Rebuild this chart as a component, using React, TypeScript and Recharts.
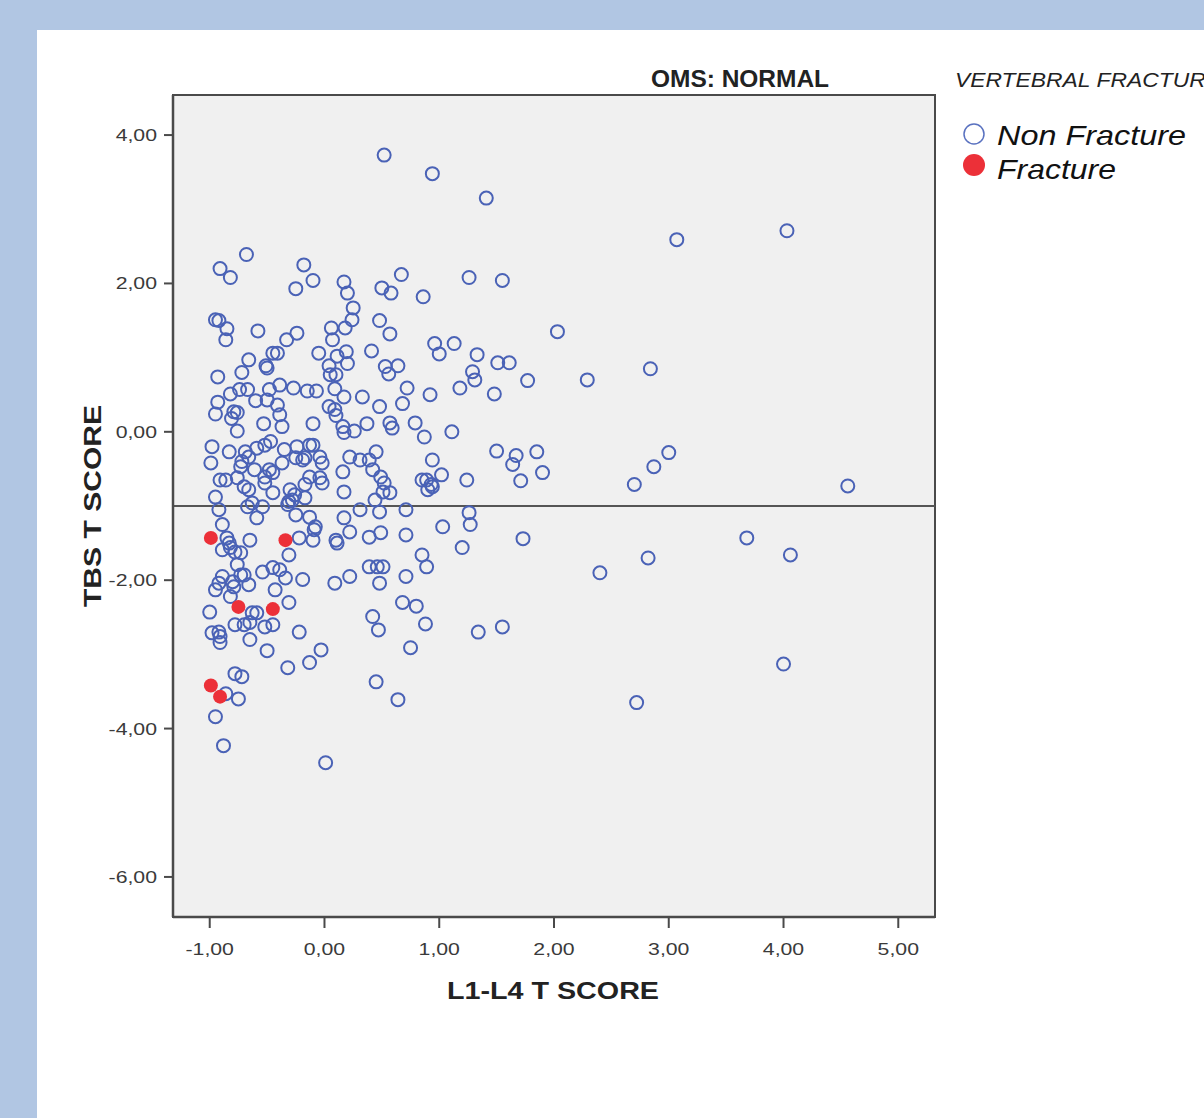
import React from "react";
import {
  ScatterChart,
  Scatter,
  XAxis,
  YAxis,
  CartesianGrid,
  ReferenceLine,
  ReferenceArea,
} from "recharts";

const xTicks = [-1, 0, 1, 2, 3, 4, 5];
const yTicks = [-6, -4, -2, 0, 2, 4];
const xDomain: [number, number] = [-1.32, 5.32];
const yDomain: [number, number] = [-6.54, 4.54];
const referenceY = -1;

const title = "OMS: NORMAL";
const legendTitle = "VERTEBRAL FRACTURE";
const seriesNames = ["Non Fracture", "Fracture"];
const xTitle = "L1-L4 T SCORE";
const yTitle = "TBS T SCORE";

const nonFracturePoints: [number, number][] = [
  [0.52, 3.73], [0.94, 3.48], [1.41, 3.15], [3.07, 2.59], [4.03, 2.71],
  [-0.68, 2.39], [-0.91, 2.2], [-0.82, 2.08], [-0.18, 2.25], [-0.1, 2.04],
  [-0.25, 1.93], [0.17, 2.02], [0.2, 1.87], [0.25, 1.67], [0.24, 1.51],
  [0.18, 1.4], [0.06, 1.4], [0.07, 1.24], [0.5, 1.94], [0.58, 1.87],
  [0.67, 2.12], [0.48, 1.5], [0.57, 1.32], [-0.95, 1.51], [-0.92, 1.5],
  [-0.85, 1.39], [-0.86, 1.24], [-0.58, 1.36], [-0.24, 1.33], [-0.33, 1.24],
  [-0.45, 1.06], [-0.41, 1.06], [-0.66, 0.97], [-0.05, 1.06], [-0.51, 0.89],
  [-0.5, 0.86], [-0.93, 0.74], [-0.72, 0.8], [0.04, 0.89], [0.11, 1.02],
  [0.19, 1.08], [0.2, 0.92], [0.05, 0.77], [0.1, 0.77], [0.41, 1.09],
  [0.53, 0.88], [0.56, 0.78], [0.64, 0.89], [0.72, 0.59], [0.68, 0.38],
  [0.48, 0.34], [0.33, 0.47], [-0.39, 0.63], [-0.27, 0.59], [-0.48, 0.57],
  [-0.74, 0.57], [-0.67, 0.57], [-0.82, 0.51], [-0.93, 0.4], [-0.95, 0.24],
  [-0.79, 0.27], [-0.76, 0.26], [-0.81, 0.18], [-0.6, 0.42], [-0.5, 0.43],
  [-0.41, 0.36], [-0.39, 0.23], [-0.37, 0.07], [-0.53, 0.11], [-0.76, 0.01],
  [-0.15, 0.55], [-0.07, 0.55], [0.09, 0.58], [0.17, 0.47], [0.04, 0.34],
  [0.09, 0.3], [0.1, 0.22], [-0.1, 0.11], [0.16, 0.07], [0.17, -0.01],
  [0.26, 0.01], [0.37, 0.11], [0.57, 0.12], [0.59, 0.05],
  [-0.98, -0.2], [-0.83, -0.27], [-0.99, -0.42], [-0.69, -0.27], [-0.66, -0.34],
  [-0.72, -0.4], [-0.73, -0.47], [-0.59, -0.22], [-0.52, -0.18], [-0.47, -0.13],
  [-0.61, -0.51], [-0.48, -0.51], [-0.45, -0.55], [-0.35, -0.24], [-0.37, -0.42],
  [-0.24, -0.2], [-0.13, -0.18], [-0.1, -0.18], [-0.25, -0.35], [-0.19, -0.38],
  [-0.17, -0.35], [-0.04, -0.34], [-0.02, -0.42], [-0.91, -0.65], [-0.86, -0.65],
  [-0.76, -0.62], [-0.7, -0.74], [-0.66, -0.78], [-0.52, -0.61], [-0.52, -0.69],
  [-0.45, -0.82], [-0.3, -0.78], [-0.26, -0.85], [-0.31, -0.94], [-0.17, -0.71],
  [-0.13, -0.61], [-0.04, -0.62], [-0.02, -0.69], [-0.17, -0.89], [-0.95, -0.88],
  [-0.92, -1.05], [-0.67, -1.01], [-0.63, -0.96], [-0.59, -1.16], [-0.54, -1.01],
  [-0.32, -0.98], [-0.28, -0.92], [-0.25, -1.12], [-0.13, -1.15], [-0.08, -1.28],
  [-0.09, -1.32], [-0.89, -1.25], [-0.22, -1.43], [-0.1, -1.46], [0.1, -1.46],
  [0.11, -1.5], [0.17, -0.81], [0.16, -0.54], [0.22, -0.34], [0.31, -0.38],
  [0.39, -0.38], [0.45, -0.27], [0.42, -0.51], [0.49, -0.61], [0.52, -0.69],
  [0.57, -0.82], [0.51, -0.81], [0.44, -0.92], [0.48, -1.08], [0.31, -1.05],
  [0.17, -1.16], [0.22, -1.35], [0.39, -1.42], [0.49, -1.36], [0.71, -1.05],
  [0.71, -1.39], [-0.85, -1.43], [-0.83, -1.5], [-0.82, -1.56], [-0.89, -1.59],
  [-0.78, -1.62], [-0.73, -1.63], [-0.65, -1.46], [-0.31, -1.66], [-0.76, -1.79],
  [-0.73, -1.93], [-0.7, -1.93], [-0.89, -1.95], [-0.92, -2.04], [-0.95, -2.13],
  [-0.8, -2.02], [-0.79, -2.09], [-0.66, -2.06], [-0.54, -1.89], [-0.45, -1.83],
  [-0.39, -1.86], [-0.34, -1.97], [-0.43, -2.13], [-0.19, -1.99], [-0.82, -2.22],
  [-1.0, -2.43], [-0.63, -2.44], [-0.59, -2.44], [-0.31, -2.3], [0.09, -2.04],
  [0.22, -1.95], [0.39, -1.82], [0.46, -1.82], [0.51, -1.82], [0.48, -2.04],
  [0.42, -2.49], [0.71, -1.95], [0.68, -2.3],
  [-0.98, -2.71], [-0.92, -2.7], [-0.91, -2.76], [-0.91, -2.84], [-0.78, -2.6],
  [-0.7, -2.6], [-0.65, -2.57], [-0.52, -2.63], [-0.45, -2.6], [-0.65, -2.8],
  [-0.5, -2.95], [-0.22, -2.7], [-0.32, -3.18], [-0.13, -3.11], [-0.03, -2.94],
  [0.47, -2.67], [-0.78, -3.26], [-0.72, -3.3], [-0.86, -3.53], [-0.75, -3.6],
  [-0.95, -3.84], [-0.88, -4.23], [0.01, -4.46], [0.45, -3.37], [0.64, -3.61],
  [0.75, -2.91],
  [0.86, 1.82], [1.26, 2.08], [1.55, 2.04], [2.03, 1.35], [0.96, 1.19],
  [1.0, 1.05], [1.13, 1.19], [1.33, 1.04], [1.51, 0.93], [1.61, 0.93],
  [1.29, 0.81], [1.31, 0.7], [1.18, 0.59], [1.48, 0.51], [1.77, 0.69],
  [2.29, 0.7], [0.92, 0.5], [0.79, 0.12], [0.87, -0.07], [1.11, 0.0],
  [1.5, -0.26], [1.67, -0.32], [1.64, -0.44], [1.85, -0.27], [1.9, -0.55],
  [1.71, -0.66], [0.94, -0.38], [0.85, -0.65], [0.89, -0.65], [0.93, -0.71],
  [0.9, -0.78], [0.94, -0.74], [1.02, -0.58], [1.24, -0.65], [1.26, -1.09],
  [1.27, -1.25], [1.03, -1.28], [1.2, -1.56], [1.73, -1.44], [0.85, -1.66],
  [0.89, -1.82], [2.4, -1.9], [0.8, -2.35], [0.88, -2.59], [1.34, -2.7],
  [1.55, -2.63],
  [2.7, -0.71], [2.87, -0.47], [3.0, -0.28], [2.84, 0.85], [3.68, -1.43],
  [4.06, -1.66], [2.82, -1.7], [4.56, -0.73], [4.0, -3.13], [2.72, -3.65],
];

const fracturePoints: [number, number][] = [
  [-0.99, -1.43], [-0.34, -1.46], [-0.75, -2.36], [-0.45, -2.39],
  [-0.99, -3.42], [-0.91, -3.57],
];

const nonFractureData = nonFracturePoints.map(([x, y]) => ({ x, y }));
const fractureData = fracturePoints.map(([x, y]) => ({ x, y }));

const BLUE = "#4a62b6";
const RED = "#ec3038";
const FONT = "'Liberation Sans', Arial, sans-serif";
const AXIS = "#4a4a4a";

const fmt = (v: number) => v.toFixed(2).replace(".", ",");

const OpenCircle = (props: any) => {
  const { cx, cy } = props;
  if (cx == null || cy == null) return null;
  return <circle cx={cx} cy={cy} r={6.5} fill="none" stroke={BLUE} strokeWidth={2} />;
};

const FilledCircle = (props: any) => {
  const { cx, cy } = props;
  if (cx == null || cy == null) return null;
  return <circle cx={cx} cy={cy} r={7} fill={RED} stroke="none" />;
};

const XTick = (props: any) => {
  const { x, y, payload } = props;
  return (
    <g transform={`translate(${x},${y})`}>
      <text
        transform="scale(1.25,1)"
        textAnchor="middle"
        dy="0.71em"
        fontFamily={FONT}
        fontSize={17}
        fill="#3a3a3a"
      >
        {fmt(payload.value)}
      </text>
    </g>
  );
};

const YTick = (props: any) => {
  const { x, y, payload } = props;
  return (
    <g transform={`translate(${x},${y})`}>
      <text
        transform="scale(1.25,1)"
        textAnchor="end"
        dy="0.355em"
        fontFamily={FONT}
        fontSize={17}
        fill="#3a3a3a"
      >
        {fmt(payload.value)}
      </text>
    </g>
  );
};

export default function App() {
  return (
    <div
      style={{
        position: "absolute",
        left: 0,
        top: 0,
        width: 1204,
        height: 1118,
        background: "#b1c6e3",
        overflow: "hidden",
      }}
    >
      <div
        style={{
          position: "absolute",
          left: 37,
          top: 30,
          width: 1167,
          height: 1088,
          background: "#ffffff",
        }}
      />
      <div style={{ position: "absolute", left: 0, top: 0 }}>
        <ScatterChart
          width={1204}
          height={1118}
          margin={{ top: 95, right: 269, bottom: 171, left: 113 }}
        >
          <CartesianGrid
            fill="#f0f0f0"
            horizontal={false}
            vertical={false}
            stroke="none"
          />
          <ReferenceArea
            x1={xDomain[0]}
            x2={xDomain[1]}
            y1={yDomain[0]}
            y2={yDomain[1]}
            fill="none"
            fillOpacity={0}
            stroke={AXIS}
            strokeWidth={2}
            ifOverflow="visible"
          />
          <XAxis
            type="number"
            dataKey="x"
            domain={xDomain}
            ticks={xTicks}
            allowDataOverflow
            tick={<XTick />}
            tickSize={11}
            tickMargin={15}
            height={30}
            axisLine={{ stroke: AXIS, strokeWidth: 2.5 }}
            tickLine={{ stroke: AXIS, strokeWidth: 2 }}
          />
          <YAxis
            type="number"
            dataKey="y"
            domain={yDomain}
            ticks={yTicks}
            allowDataOverflow
            tick={<YTick />}
            tickSize={9}
            tickMargin={7}
            width={60}
            axisLine={{ stroke: AXIS, strokeWidth: 2.5 }}
            tickLine={{ stroke: AXIS, strokeWidth: 2 }}
          />
          <ReferenceLine y={referenceY} stroke="#555555" strokeWidth={2} />
          <Scatter
            name={seriesNames[0]}
            data={nonFractureData}
            shape={OpenCircle}
            isAnimationActive={false}
          />
          <Scatter
            name={seriesNames[1]}
            data={fractureData}
            shape={FilledCircle}
            isAnimationActive={false}
          />
        </ScatterChart>
      </div>
      <svg
        width={1204}
        height={1118}
        style={{ position: "absolute", left: 0, top: 0, pointerEvents: "none" }}
      >
        <text
          x={740}
          y={87}
          textAnchor="middle"
          fontFamily="'Liberation Sans Narrow', 'Liberation Sans', Arial, sans-serif"
          fontWeight="bold"
          fontSize={24}
          fill="#222"
          textLength={178}
          lengthAdjust="spacingAndGlyphs"
        >
          {title}
        </text>
        <text
          x={955}
          y={87}
          fontFamily={FONT}
          fontStyle="italic"
          fontSize={21}
          fill="#222"
          textLength={266}
          lengthAdjust="spacingAndGlyphs"
        >
          {legendTitle}
        </text>
        <circle cx={974} cy={134} r={10} fill="none" stroke="#5a72c0" strokeWidth={1.5} />
        <text
          x={997}
          y={145}
          fontFamily={FONT}
          fontStyle="italic"
          fontSize={28}
          fill="#111"
          textLength={189}
          lengthAdjust="spacingAndGlyphs"
        >
          {seriesNames[0]}
        </text>
        <circle cx={974} cy={165} r={11} fill={RED} />
        <text
          x={997}
          y={179}
          fontFamily={FONT}
          fontStyle="italic"
          fontSize={28}
          fill="#111"
          textLength={119}
          lengthAdjust="spacingAndGlyphs"
        >
          {seriesNames[1]}
        </text>
        <text
          x={553}
          y={999}
          textAnchor="middle"
          fontFamily={FONT}
          fontWeight="bold"
          fontSize={24}
          fill="#222"
          textLength={212}
          lengthAdjust="spacingAndGlyphs"
        >
          {xTitle}
        </text>
        <text
          x={0}
          y={0}
          transform="translate(101,506) rotate(-90)"
          textAnchor="middle"
          fontFamily={FONT}
          fontWeight="bold"
          fontSize={24}
          fill="#222"
          textLength={202}
          lengthAdjust="spacingAndGlyphs"
        >
          {yTitle}
        </text>
      </svg>
    </div>
  );
}
